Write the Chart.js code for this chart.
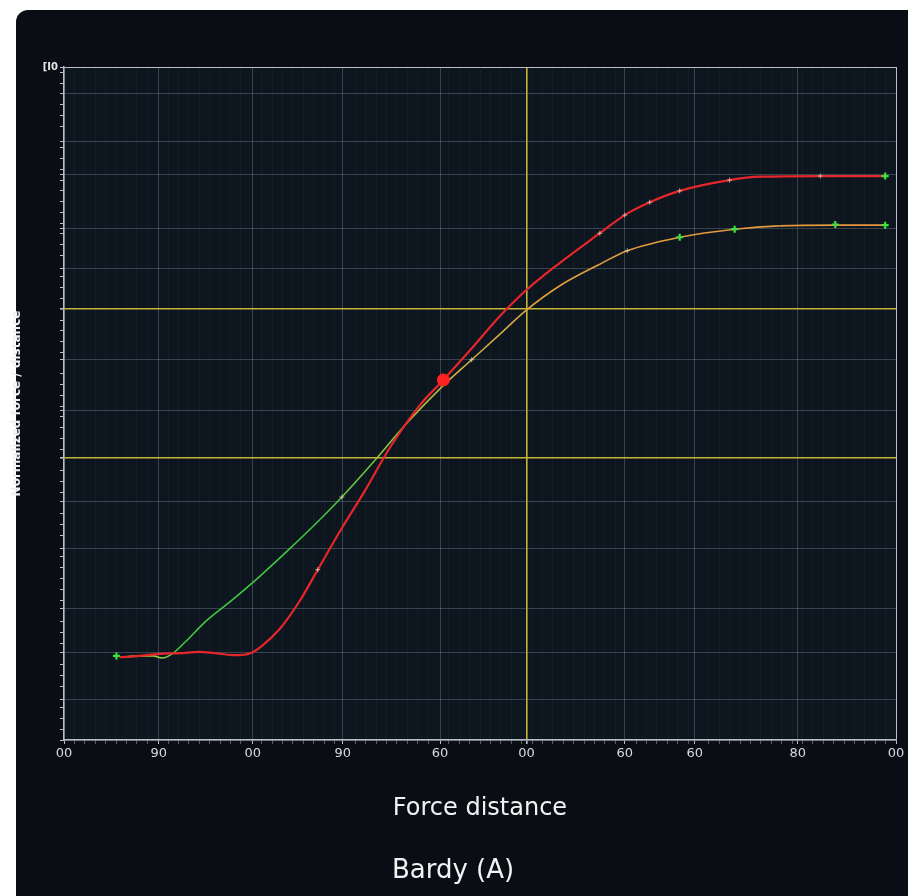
<!DOCTYPE html>
<html>
<head>
<meta charset="utf-8">
<script src="https://cdn.jsdelivr.net/npm/chart.js@4.4.1/dist/chart.umd.min.js"></script>
<style>
  html, body { margin: 0; padding: 0; background: #fff; width: 908px; height: 896px; overflow: hidden; }
  #panel { position: absolute; left: 16px; top: 10px; right: 0; bottom: 0; background: #0a0e14; border-top-left-radius: 12px; }
  #wrap { position: absolute; left: 0; top: 0; width: 908px; height: 896px; }
</style>
</head>
<body>
<div id="panel"></div>
<div id="wrap"><canvas id="chart"></canvas></div>
<script>
/* ---- Данные (x: 0..100, y: 0..100) ---- */
const X_TICKS  = [0, 11.4, 22.7, 33.5, 45.2, 55.6, 67.4, 75.8, 88.2, 100];
const X_LABELS = ["00", "90", "00", "90", "60", "00", "60", "60", "80", "00"];
const X_CROSS  = 55.6;                 // жёлтая вертикаль
const X_MINOR_STEP = 1.25;

const Y_GRID  = [0, 6, 13, 19.5, 28.5, 35.5, 42, 49, 56.5, 64, 70, 76, 84, 89, 96, 100];
const Y_CROSS = [42, 64];              // жёлтые горизонтали
const Y_MINOR_STEP = 1.6;
const Y_TOP_LABEL = "[I0";

// красная кривая
const RED_X = [6.7, 9.1, 11.5, 13.9, 16.3, 18.1, 20.6, 22.4, 23.8, 26.0, 28.4, 30.5, 33.4, 36.2, 39.2, 42.8, 45.6, 48.8, 52.4, 55.6, 59.6, 64.4, 67.4, 70.4, 74.0, 80.0, 83.7, 90.9, 98.7];
const RED_Y = [12.3, 12.5, 12.8, 12.9, 13.1, 12.9, 12.6, 12.9, 14.0, 16.6, 20.8, 25.3, 31.5, 37.1, 43.5, 49.8, 53.5, 57.9, 63.0, 66.9, 70.9, 75.3, 78.0, 79.9, 81.6, 83.2, 83.7, 83.8, 83.8];

// зелёно-оранжевая кривая
const GREEN_X = [6.7, 9.1, 10.7, 11.8, 13.0, 14.6, 17.0, 20.3, 23.6, 27.2, 30.8, 33.4, 37.4, 41.0, 45.6, 49.0, 52.4, 55.6, 59.6, 64.4, 67.7, 74.0, 80.6, 86.0, 92.7, 98.7];
const GREEN_Y = [12.3, 12.5, 12.5, 12.2, 12.8, 14.6, 17.6, 20.9, 24.4, 28.5, 32.8, 36.1, 41.6, 46.8, 52.7, 56.5, 60.3, 63.9, 67.5, 70.7, 72.7, 74.7, 75.9, 76.4, 76.5, 76.5];

// маркеры на линиях
const MARK_X  = [30.5, 33.4, 49.0, 64.4, 67.4, 67.7, 74.0, 80.0, 90.9, 70.4];
const MARK_Y  = [25.3, 36.1, 56.5, 75.3, 78.0, 72.7, 81.6, 83.2, 83.8, 79.9];
const GMARK_X = [6.3, 74.0, 80.6, 92.7, 98.7, 98.7];
const GMARK_Y = [12.5, 74.7, 75.9, 76.6, 76.5, 83.8];
const DOT_X = [45.6];
const DOT_Y = [53.5];

/* ---- Стиль ---- */
const C_MAJOR = "rgba(150,165,180,0.32)";
const C_MINOR = "rgba(150,165,180,0.055)";
const C_FRAME = "#b9bfc7";
const C_YELLOW = "#c4b537";

const GREEN_STOPS = [
  [0,  [160, 205, 60]],
  [11, [160, 205, 60]],
  [14, [62, 200, 62]],
  [31, [62, 200, 62]],
  [40, [150, 192, 62]],
  [47, [205, 180, 70]],
  [58, [226, 160, 62]],
  [100, [230, 150, 62]]
];
function colorAt(x) {
  for (let i = 1; i < GREEN_STOPS.length; i++) {
    const [x1, c1] = GREEN_STOPS[i];
    const [x0, c0] = GREEN_STOPS[i - 1];
    if (x <= x1) {
      const t = (x - x0) / (x1 - x0);
      const c = c0.map((v, k) => Math.round(v + (c1[k] - v) * t));
      return "rgb(" + c.join(",") + ")";
    }
  }
  return "rgb(230,150,62)";
}

const pts = (xs, ys) => xs.map((x, i) => ({ x, y: ys[i] }));
const near = (list, v) => list.some(g => Math.abs(g - v) < 1e-6);

function xTicks() {
  const list = X_TICKS.map(v => ({ value: v }));
  for (let v = X_MINOR_STEP; v < 100; v += X_MINOR_STEP) {
    if (X_TICKS.every(g => Math.abs(g - v) > 0.5)) list.push({ value: v });
  }
  return list.sort((a, b) => a.value - b.value);
}
function yTicks() {
  const list = Y_GRID.map(v => ({ value: v }));
  for (let v = Y_MINOR_STEP; v < 100; v += Y_MINOR_STEP) {
    if (Y_GRID.every(g => Math.abs(g - v) > 0.6)) list.push({ value: v });
  }
  return list.sort((a, b) => a.value - b.value);
}

// фон области графика
const plotBg = {
  id: "plotBg",
  beforeDraw(chart) {
    const { ctx, chartArea: a } = chart;
    ctx.save();
    ctx.fillStyle = "#0d151e";
    ctx.fillRect(a.left, a.top, a.width, a.height);
    ctx.restore();
  }
};

Chart.defaults.font.family = "'DejaVu Sans', sans-serif";

new Chart(document.getElementById("chart"), {
  type: "line",
  data: {
    datasets: [
      { data: pts(DOT_X, DOT_Y), showLine: false, pointRadius: 6, pointBackgroundColor: "#ff2323", pointBorderColor: "#ff2323" },
      { data: pts(GMARK_X, GMARK_Y), showLine: false, pointStyle: "cross", pointRadius: 3.5, pointBorderWidth: 2.2, pointBorderColor: "#3fe040" },
      { data: pts(MARK_X, MARK_Y), showLine: false, pointStyle: "cross", pointRadius: 2.5, pointBorderWidth: 1, pointBorderColor: "rgba(225,215,185,0.75)" },
      { data: pts(RED_X, RED_Y), borderColor: "#e5262b", borderWidth: 2.2, pointRadius: 0, cubicInterpolationMode: "monotone" },
      {
        data: pts(GREEN_X, GREEN_Y), borderColor: "#3ec83e", borderWidth: 1.6, pointRadius: 0, cubicInterpolationMode: "monotone",
        segment: { borderColor: c => colorAt((c.p0.parsed.x + c.p1.parsed.x) / 2) }
      }
    ]
  },
  plugins: [plotBg],
  options: {
    responsive: true, maintainAspectRatio: false, animation: false,
    layout: { padding: { left: 10, top: 67, right: 12, bottom: 0 } },
    plugins: {
      legend: { display: false },
      tooltip: { enabled: false },
      title: {
        display: true, position: "bottom", text: "Bardy (A)", color: "#f2f2f2",
        font: { size: 26, weight: "normal" }, padding: { top: 0, bottom: 9 }
      }
    },
    scales: {
      x: {
        type: "linear", min: 0, max: 100,
        afterBuildTicks: s => { s.ticks = xTicks(); },
        afterFit: s => { s.height = 115.8; },
        ticks: {
          autoSkip: false, maxRotation: 0, minRotation: 0, padding: 2,
          color: "#d6dadf", font: { size: 13 },
          callback: v => { const i = X_TICKS.findIndex(g => Math.abs(g - v) < 1e-6); return i >= 0 ? X_LABELS[i] : ""; }
        },
        grid: {
          tickLength: 4,
          color: c => {
            const v = c.tick.value;
            if (Math.abs(v - X_CROSS) < 1e-6) return C_YELLOW;
            if (v === 100) return C_FRAME;
            return near(X_TICKS, v) ? C_MAJOR : C_MINOR;
          },
          lineWidth: c => Math.abs(c.tick.value - X_CROSS) < 1e-6 ? 1.6 : 1,
          tickColor: c => near(X_TICKS, c.tick.value) ? C_FRAME : "rgba(185,191,199,0.45)"
        },
        border: { color: C_FRAME, width: 1.5 },
        title: {
          display: true, text: "Force distance", color: "#f2f2f2",
          font: { size: 24 }, padding: { top: 0, bottom: 33 }
        }
      },
      y: {
        type: "linear", min: 0, max: 100,
        afterBuildTicks: s => { s.ticks = yTicks(); },
        afterFit: s => { s.width = 54; },
        ticks: {
          autoSkip: false, padding: 2, color: "#e6e6e6", font: { size: 10, weight: "bold" },
          callback: v => v === 100 ? Y_TOP_LABEL : ""
        },
        grid: {
          tickLength: 4,
          color: c => {
            const v = c.tick.value;
            if (near(Y_CROSS, v)) return C_YELLOW;
            if (v === 100) return C_FRAME;
            return near(Y_GRID, v) ? C_MAJOR : "rgba(0,0,0,0)";
          },
          lineWidth: c => near(Y_CROSS, c.tick.value) ? 1.6 : 1,
          tickColor: C_FRAME
        },
        border: { color: C_FRAME, width: 1.5 },
        title: {
          display: true, text: "Normalized force / distance", color: "#f0f0f0",
          font: { size: 12, weight: "bold" }, padding: 0
        }
      }
    }
  }
});
</script>
</body>
</html>
